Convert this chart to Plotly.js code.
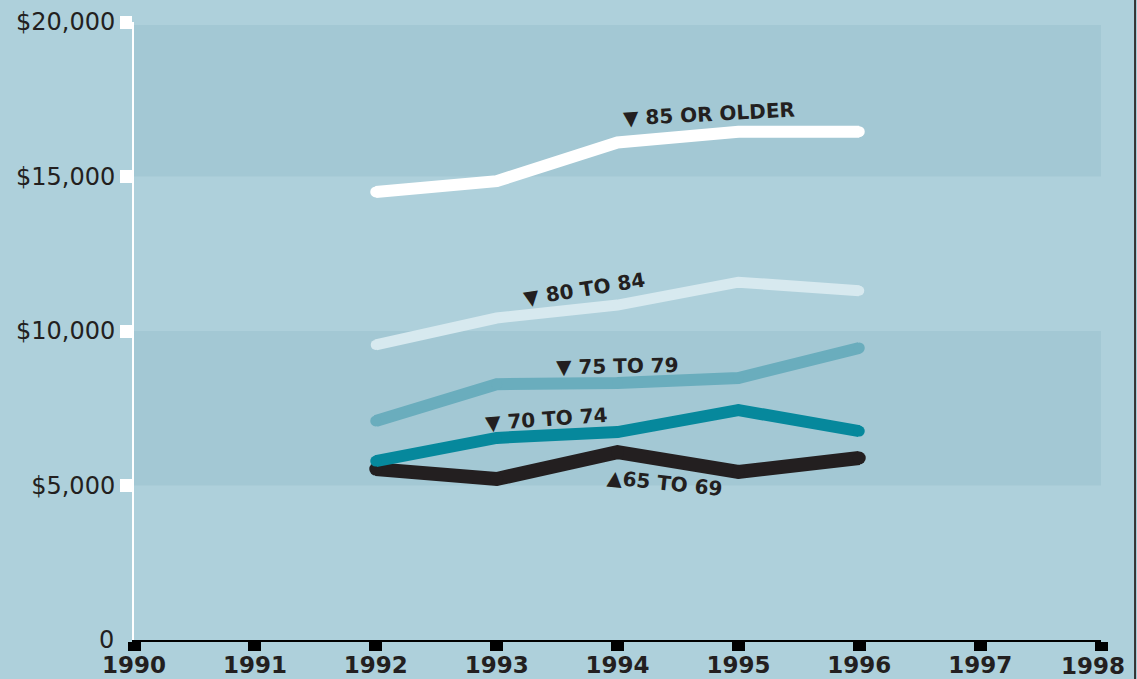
<!DOCTYPE html>
<html>
<head>
<meta charset="utf-8">
<script src="https://cdn.plot.ly/plotly-3.0.1.min.js"></script>
<style>html,body{margin:0;padding:0;background:#aed0db;}#chart{width:1137px;height:679px;}</style>
</head>
<body>
<div id="chart"></div>
<script>
const years = [1992, 1993, 1994, 1995, 1996];
const age85plus = [14500, 14850, 16100, 16450, 16450];
const age80to84 = [9550, 10420, 10840, 11580, 11300];
const age75to79 = [7090, 8280, 8320, 8480, 9450];
const age70to74 = [5790, 6540, 6730, 7440, 6760];
const age65to69 = [5530, 5210, 6080, 5440, 5890];
const xTicks = [1990, 1991, 1992, 1993, 1994, 1995, 1996, 1997, 1998];
const yTickVals = [5000, 10000, 15000, 20000];
const yTickText = ['$5,000', '$10,000', '$15,000', '$20,000'];

const seriesList = [
  {name: '65 TO 69', y: age65to69, color: '#231f20', width: 14},
  {name: '70 TO 74', y: age70to74, color: '#06889c', width: 12},
  {name: '75 TO 79', y: age75to79, color: '#6aadbd', width: 12},
  {name: '80 TO 84', y: age80to84, color: '#d7e9ef', width: 11},
  {name: '85 OR OLDER', y: age85plus, color: '#ffffff', width: 12}
];

const traces = seriesList.map(s => ({
  x: years, y: s.y, type: 'scatter', mode: 'lines+markers', name: s.name,
  line: {color: s.color, width: s.width},
  marker: {color: s.color, size: s.width - 1, line: {width: 0}},
  hoverinfo: 'skip', showlegend: false
}));

const FONT = 'DejaVu Sans, Verdana, sans-serif';
const labelFont = {family: FONT, size: 20, color: '#231f20', weight: 'bold'};
const xTickFont = {family: FONT, size: 23, color: '#231f20', weight: 'bold'};
const labels = [
  {text: '<b>▼ 85 OR OLDER</b>', x: 1994.76, y: 17020, angle: -3},
  {text: '<b>▼ 80 TO 84</b>', x: 1993.73, y: 11360, angle: -9},
  {text: '<b>▼ 75 TO 79</b>', x: 1994.0, y: 8870, angle: -1},
  {text: '<b>▼ 70 TO 74</b>', x: 1993.41, y: 7150, angle: -4},
  {text: '<b>▲65 TO 69</b>', x: 1994.39, y: 5080, angle: 6}
];

const lastYear = xTicks[xTicks.length - 1];
const annotations = labels.map(l => ({
  x: l.x, y: l.y, xref: 'x', yref: 'y', text: l.text, showarrow: false,
  textangle: l.angle, font: labelFont
}));
annotations.push({
  x: 0, y: 0, xref: 'paper', yref: 'y', text: '0', showarrow: false,
  xanchor: 'right', xshift: -18, yshift: 0,
  font: {family: FONT, size: 24, color: '#231f20'}
});
annotations.push({
  x: lastYear, y: 0, xref: 'x', yref: 'paper', text: '<b>' + lastYear + '</b>', showarrow: false,
  xanchor: 'center', yanchor: 'middle', xshift: -8, yshift: -26,
  font: xTickFont
});

const layout = {
  width: 1137, height: 679,
  margin: {l: 134, r: 36, t: 22, b: 39},
  paper_bgcolor: '#aed0db',
  plot_bgcolor: '#aed0db',
  xaxis: {
    range: [1990, 1998], tickvals: xTicks,
    ticktext: xTicks.map(v => v === lastYear ? '' : String(v)),
    showgrid: false, zeroline: false,
    showline: true, linecolor: '#000000', linewidth: 2,
    ticks: 'outside', ticklen: 9, tickwidth: 13, tickcolor: '#000000',
    ticklabelstandoff: -6,
    tickfont: xTickFont,
    fixedrange: true
  },
  yaxis: {
    range: [0, 20000], tickvals: yTickVals, ticktext: yTickText,
    showgrid: false, zeroline: false,
    showline: true, linecolor: '#ffffff', linewidth: 2,
    ticks: 'outside', ticklen: 12, tickwidth: 13, tickcolor: '#ffffff',
    tickfont: {family: FONT, size: 24, color: '#231f20'},
    fixedrange: true
  },
  shapes: [
    {type: 'rect', xref: 'paper', yref: 'y', x0: 0, x1: 1, y0: 15000, y1: 19900,
     fillcolor: '#a3c8d4', line: {width: 0}, layer: 'below'},
    {type: 'rect', xref: 'paper', yref: 'y', x0: 0, x1: 1, y0: 5000, y1: 10000,
     fillcolor: '#a3c8d4', line: {width: 0}, layer: 'below'},
    {type: 'line', xref: 'paper', yref: 'paper', x0: 1.0352, x1: 1.0352, y0: -0.1, y1: 1.1,
     line: {color: '#333333', width: 2}}
  ],
  annotations: annotations
};

Plotly.newPlot('chart', traces, layout, {displayModeBar: false, staticPlot: true});
</script>
</body>
</html>
